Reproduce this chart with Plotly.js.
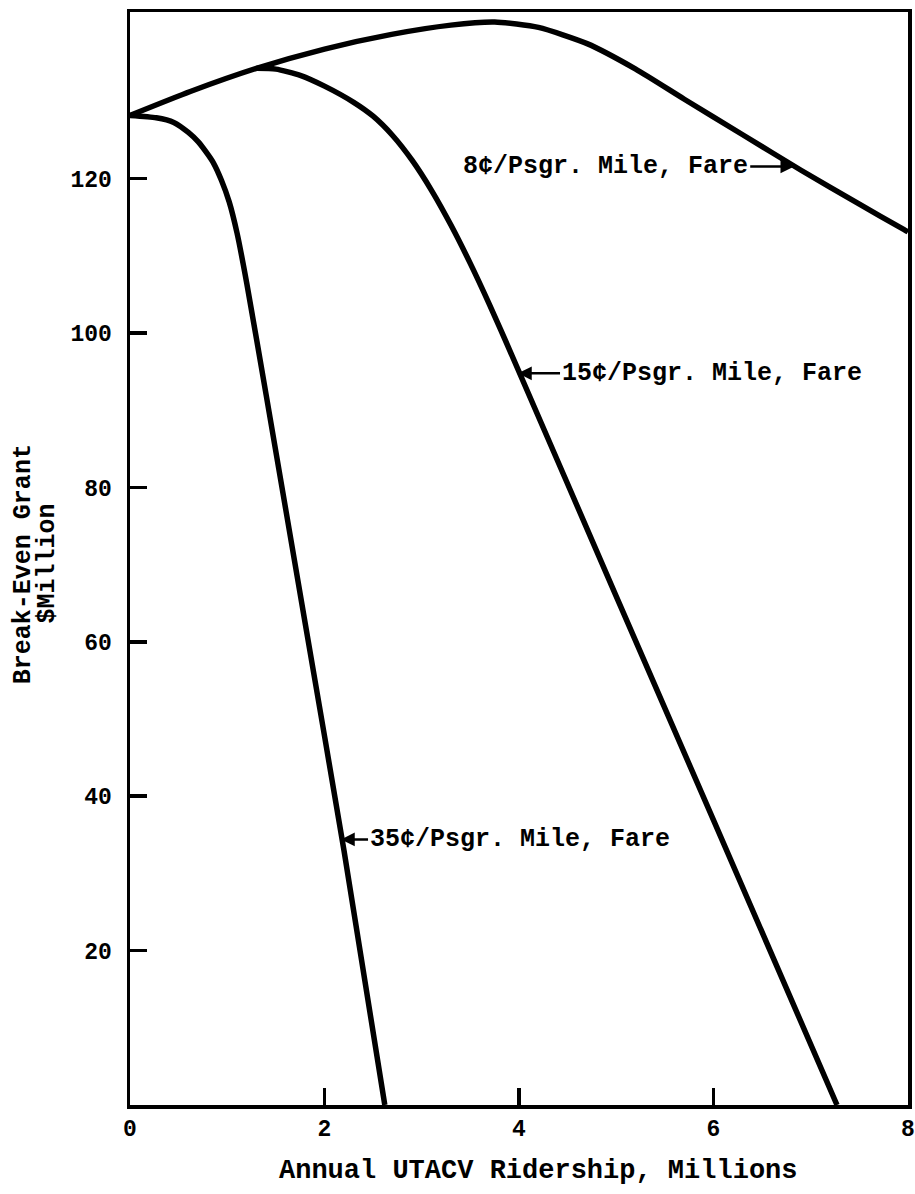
<!DOCTYPE html>
<html>
<head>
<meta charset="utf-8">
<script src="https://cdn.plot.ly/plotly-3.0.1.min.js"></script>
<style>
  html, body { margin: 0; padding: 0; background: #ffffff; }
  #chart { width: 915px; height: 1194px; }
</style>
</head>
<body>
<div id="chart"></div>
<script>
// Break-even grant ($ million) versus annual ridership (millions) for three fare levels.
const fare8Ridership  = [0, 0.62, 1.30, 2.00, 2.69, 3.30, 3.75, 4.20, 4.70, 5.20, 5.70, 6.30, 6.90, 7.50, 7.96, 8.00];
const fare8Grant      = [128.2, 131.3, 134.3, 136.8, 138.7, 139.9, 140.3, 139.6, 137.5, 134.2, 130.3, 125.7, 121.1, 116.7, 113.4, 113.1];

const fare15Ridership = [1.30, 1.50, 1.75, 2.00, 2.30, 2.50, 2.70, 2.90, 3.10, 3.30, 3.50, 3.70, 3.90, 5.00, 6.00, 7.27];
const fare15Grant     = [134.3, 134.2, 133.4, 132.0, 129.9, 128.1, 125.6, 122.4, 118.5, 114.0, 109.0, 103.6, 97.9, 65.9, 36.9, 0];

const fare35Ridership = [0, 0.27, 0.45, 0.60, 0.70, 0.78, 0.86, 0.94, 1.02, 1.10, 1.20, 1.40, 1.80, 2.20, 2.62];
const fare35Grant     = [128.2, 127.9, 127.3, 126.0, 124.8, 123.5, 122.0, 119.8, 117.0, 113.0, 106.5, 92.0, 62.5, 33.0, 0];

const seriesLabels = ['8¢/Psgr. Mile, Fare', '15¢/Psgr. Mile, Fare', '35¢/Psgr. Mile, Fare'];
// Points on each curve that the label arrows touch
const labelTargetX = [6.83, 3.99, 2.17];
const labelTargetY = [121.6, 94.8, 34.4];

const xTickVals = [0, 2, 4, 6, 8];
const xTickText = ['0', '2', '4', '6', '8'];
const yTickVals = [20, 40, 60, 80, 100, 120];
const yTickText = ['20', '40', '60', '80', '100', '120'];

const xTitle = 'Annual UTACV Ridership, Millions';
const yTitleLines = ['Break-Even Grant', '$Million'];

const FONT = '"Liberation Mono", "DejaVu Sans Mono", monospace';
const INK = '#000000';

const curveLine = { color: INK, width: 5.5, shape: 'spline', smoothing: 0.6 };

const traces = [
  { x: fare8Ridership,  y: fare8Grant,  name: seriesLabels[0], mode: 'lines', line: curveLine, cliponaxis: true },
  { x: fare15Ridership, y: fare15Grant, name: seriesLabels[1], mode: 'lines', line: curveLine, cliponaxis: true },
  { x: fare35Ridership, y: fare35Grant, name: seriesLabels[2], mode: 'lines', line: curveLine, cliponaxis: true }
];

const labelFont = { family: FONT, size: 25, color: INK, weight: 'bold' };

const annotations = [
  {
    x: labelTargetX[0], y: labelTargetY[0], xref: 'x', yref: 'y',
    text: seriesLabels[0], showarrow: true, ax: -44, ay: 0,
    xanchor: 'right', yanchor: 'middle',
    arrowhead: 2, arrowsize: 1.1, arrowwidth: 2.5, arrowcolor: INK, font: labelFont
  },
  {
    x: labelTargetX[1], y: labelTargetY[1], xref: 'x', yref: 'y',
    text: seriesLabels[1], showarrow: true, ax: 42, ay: 0,
    xanchor: 'left', yanchor: 'middle',
    arrowhead: 2, arrowsize: 1.1, arrowwidth: 2.5, arrowcolor: INK, font: labelFont
  },
  {
    x: labelTargetX[2], y: labelTargetY[2], xref: 'x', yref: 'y',
    text: seriesLabels[2], showarrow: true, ax: 27, ay: 0,
    xanchor: 'left', yanchor: 'middle',
    arrowhead: 2, arrowsize: 1.1, arrowwidth: 2.5, arrowcolor: INK, font: labelFont
  },
  {
    x: 0.524, y: -0.060, xref: 'paper', yref: 'paper',
    text: xTitle, showarrow: false, xanchor: 'center', yanchor: 'middle',
    font: { family: FONT, size: 27, color: INK, weight: 'bold' }
  },
  {
    x: -0.136, y: 0.495, xref: 'paper', yref: 'paper',
    text: yTitleLines[0], showarrow: false, textangle: -90,
    xanchor: 'center', yanchor: 'middle',
    font: { family: FONT, size: 25, color: INK, weight: 'bold' }
  },
  {
    x: -0.106, y: 0.495, xref: 'paper', yref: 'paper',
    text: yTitleLines[1], showarrow: false, textangle: -90,
    xanchor: 'center', yanchor: 'middle',
    font: { family: FONT, size: 25, color: INK, weight: 'bold' }
  }
];

const axisCommon = {
  showgrid: false, zeroline: false,
  showline: true, linecolor: INK, linewidth: 3.5, mirror: true,
  ticks: 'inside', ticklen: 17, tickwidth: 3.5, tickcolor: INK,
  tickfont: { family: FONT, size: 23, color: INK, weight: 'bold' },
  fixedrange: true
};

const layout = {
  width: 915, height: 1194,
  margin: { l: 130, r: 7, t: 12, b: 89 },
  paper_bgcolor: '#ffffff', plot_bgcolor: '#ffffff',
  showlegend: false,
  xaxis: Object.assign({}, axisCommon, {
    range: [0, 8], tickmode: 'array', tickvals: xTickVals, ticktext: xTickText,
    ticklabelstandoff: 0
  }),
  yaxis: Object.assign({}, axisCommon, {
    range: [0, 141.6], tickmode: 'array', tickvals: yTickVals, ticktext: yTickText,
    ticklabelstandoff: 10
  }),
  annotations: annotations
};

Plotly.newPlot('chart', traces, layout, { staticPlot: true, displayModeBar: false });
</script>
</body>
</html>
